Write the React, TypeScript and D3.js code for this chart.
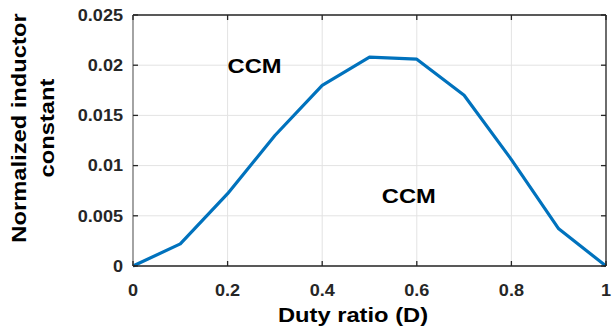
import React from "react";
import * as d3 from "d3";

// Duty ratio samples and the normalized inductor constant at each
const dutyRatio = [0, 0.1, 0.2, 0.3, 0.4, 0.5, 0.6, 0.7, 0.8, 0.9, 1.0];
const inductorConstant = [0, 0.0022, 0.0072, 0.013, 0.018, 0.0208, 0.0206, 0.017, 0.0106, 0.0037, 0];

const xTicks = [0, 0.2, 0.4, 0.6, 0.8, 1];
const xTickLabels = ["0", "0.2", "0.4", "0.6", "0.8", "1"];
const yTicks = [0, 0.005, 0.01, 0.015, 0.02, 0.025];
const yTickLabels = ["0", "0.005", "0.01", "0.015", "0.02", "0.025"];

const regionLabels = [
  { text: "CCM", d: 0.2, v: 0.0192 },
  { text: "CCM", d: 0.526, v: 0.0063 },
];

const W = 612;
const H = 332;
const margin = { left: 133, right: 6, top: 15, bottom: 66 };
const FONT = "'Liberation Sans', Arial, Helvetica, sans-serif";
const STRETCH = 1.13;

export default function App() {
  const x = d3.scaleLinear().domain([0, 1]).range([margin.left, W - margin.right]);
  const y = d3.scaleLinear().domain([0, 0.025]).range([H - margin.bottom, margin.top]);
  const x0 = x.range()[0];
  const x1 = x.range()[1];
  const y0 = y.range()[0];
  const y1 = y.range()[1];
  const tick = 5;

  const line = d3
    .line<number>()
    .x((_, i) => x(dutyRatio[i]))
    .y((v) => y(v));

  return (
    <svg
      width={W}
      height={H}
      style={{ position: "absolute", left: 0, top: 0, background: "#fff" }}
      fontFamily={FONT}
      fontWeight="bold"
    >
      <rect x={0} y={0} width={W} height={H} fill="#fff" />
      {/* grid */}
      {xTicks.map((t) => (
        <line key={"gx" + t} x1={x(t)} x2={x(t)} y1={y0} y2={y1} stroke="#e3e3e3" strokeWidth={1} />
      ))}
      {yTicks.map((t) => (
        <line key={"gy" + t} x1={x0} x2={x1} y1={y(t)} y2={y(t)} stroke="#e3e3e3" strokeWidth={1} />
      ))}

      {/* data curve */}
      <path d={line(inductorConstant) || ""} fill="none" stroke="#0072BD" strokeWidth={3.2} strokeLinejoin="round" />

      {/* axes box */}
      <line x1={x0} x2={x1} y1={y1} y2={y1} stroke="#262626" strokeWidth={1.3} />
      <line x1={x1} x2={x1} y1={y1} y2={y0} stroke="#262626" strokeWidth={1.3} />
      <line x1={x0} x2={x1} y1={y0} y2={y0} stroke="#262626" strokeWidth={1.3} />
      <line x1={x0} x2={x0} y1={y1} y2={y0} stroke="#7a7a7a" strokeWidth={1.3} />

      {/* inward ticks on all sides */}
      {xTicks.map((t) => (
        <g key={"tx" + t}>
          <line x1={x(t)} x2={x(t)} y1={y0} y2={y0 - tick} stroke="#262626" strokeWidth={1.3} />
          <line x1={x(t)} x2={x(t)} y1={y1} y2={y1 + tick} stroke="#262626" strokeWidth={1.3} />
        </g>
      ))}
      {yTicks.map((t) => (
        <g key={"ty" + t}>
          <line x1={x0} x2={x0 + tick} y1={y(t)} y2={y(t)} stroke="#262626" strokeWidth={1.3} />
          <line x1={x1} x2={x1 - tick} y1={y(t)} y2={y(t)} stroke="#262626" strokeWidth={1.3} />
        </g>
      ))}

      {/* tick labels */}
      {xTicks.map((t, i) => (
        <g key={"lx" + t} transform={`translate(${x(t)},${y0 + 29.5}) scale(${STRETCH},1)`}>
          <text textAnchor="middle" fontSize={16} fill="#262626">
            {xTickLabels[i]}
          </text>
        </g>
      ))}
      {yTicks.map((t, i) => (
        <g key={"ly" + t} transform={`translate(${x0 - 10},${y(t) + 5.8}) scale(${STRETCH},1)`}>
          <text textAnchor="end" fontSize={16} fill="#262626">
            {yTickLabels[i]}
          </text>
        </g>
      ))}

      {/* axis titles */}
      <g transform={`translate(353,321.5) scale(${STRETCH},1)`}>
        <text textAnchor="middle" fontSize={21} fill="#000">
          Duty ratio (D)
        </text>
      </g>
      <g transform={`translate(25.5,128) rotate(-90) scale(${STRETCH},1)`}>
        <text textAnchor="middle" fontSize={21} fill="#000">
          Normalized inductor
        </text>
      </g>
      <g transform={`translate(54,128) rotate(-90) scale(${STRETCH},1)`}>
        <text textAnchor="middle" fontSize={21} fill="#000">
          constant
        </text>
      </g>

      {/* region annotations */}
      {regionLabels.map((r, i) => (
        <g key={"r" + i} transform={`translate(${x(r.d)},${y(r.v)}) scale(${STRETCH},1)`}>
          <text textAnchor="start" fontSize={21} fill="#000">
            {r.text}
          </text>
        </g>
      ))}
    </svg>
  );
}
